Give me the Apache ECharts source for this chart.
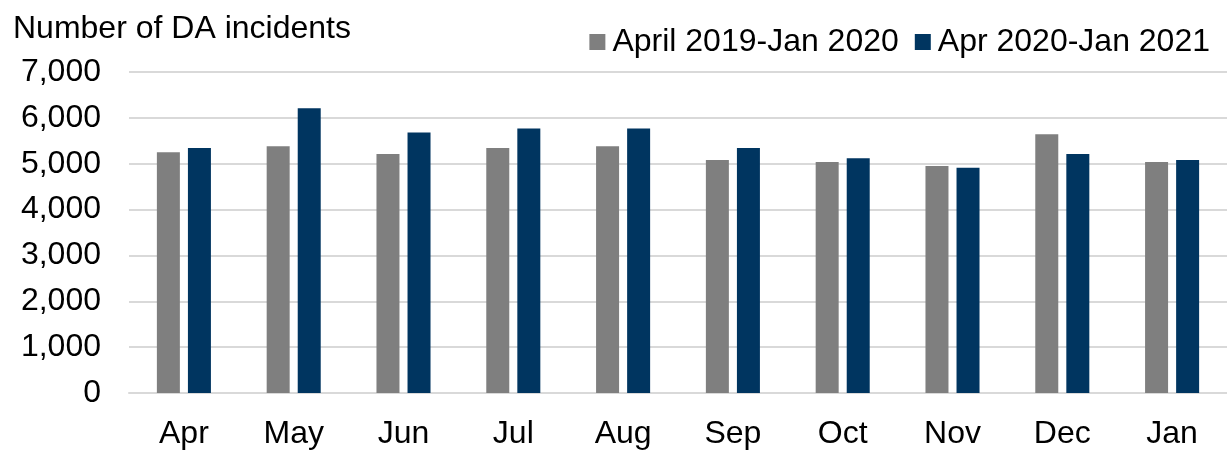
<!DOCTYPE html>
<html>
<head>
<meta charset="utf-8">
<script src="https://cdn.jsdelivr.net/npm/echarts@6/dist/echarts.min.js"></script>
<style>
html, body { margin: 0; padding: 0; background: #fff; }
#bar { width: 1227px; height: 450px; }
</style>
</head>
<body>
<div id="bar"></div>
<script>
// months on the x axis
var months = ['Apr', 'May', 'Jun', 'Jul', 'Aug', 'Sep', 'Oct', 'Nov', 'Dec', 'Jan'];
// DA incidents per month
var prevYear = [5250, 5380, 5210, 5340, 5380, 5080, 5040, 4950, 5640, 5040];
var thisYear = [5340, 6210, 5680, 5770, 5770, 5340, 5120, 4910, 5210, 5080];
var seriesNames = ['April 2019-Jan 2020', 'Apr 2020-Jan 2021'];

var font = 'Liberation Sans, Arial, sans-serif';
var chart = echarts.init(document.getElementById('bar'));

var option = {
    animation: false,
    textStyle: { fontFamily: font },
    title: {
        text: 'Number of DA incidents',
        left: 8,
        top: 8,
        textStyle: { fontFamily: font, fontSize: 32, fontWeight: 'normal', color: '#000' }
    },
    legend: {
        right: 12,
        top: 21,
        itemWidth: 16,
        itemHeight: 16,
        itemGap: 16,
        icon: 'rect',
        textStyle: { fontFamily: font, fontSize: 32, color: '#000', padding: [0, 0, 0, 2] },
        data: seriesNames
    },
    grid: {
        left: 129,
        right: 0,
        top: 72,
        bottom: 50
    },
    xAxis: {
        type: 'category',
        data: months,
        axisTick: { show: false },
        axisLine: { lineStyle: { color: '#d9d9d9', width: 2 } },
        axisLabel: { fontFamily: font, fontSize: 32, color: '#000', margin: 25 }
    },
    yAxis: {
        type: 'value',
        min: 0,
        max: 7000,
        interval: 1000,
        axisLine: { show: false },
        axisTick: { show: false },
        splitLine: { lineStyle: { color: '#d9d9d9', width: 2 } },
        axisLabel: {
            fontFamily: font,
            fontSize: 32,
            color: '#000',
            margin: 28,
            formatter: function (v) { return v.toLocaleString('en-US'); }
        }
    },
    series: [
        {
            name: seriesNames[0],
            type: 'bar',
            data: prevYear,
            barWidth: 23,
            barGap: '35%',
            itemStyle: { color: '#7f7f7f' }
        },
        {
            name: seriesNames[1],
            type: 'bar',
            data: thisYear,
            barWidth: 23,
            itemStyle: { color: '#003560' }
        }
    ]
};

chart.setOption(option);
</script>
</body>
</html>
